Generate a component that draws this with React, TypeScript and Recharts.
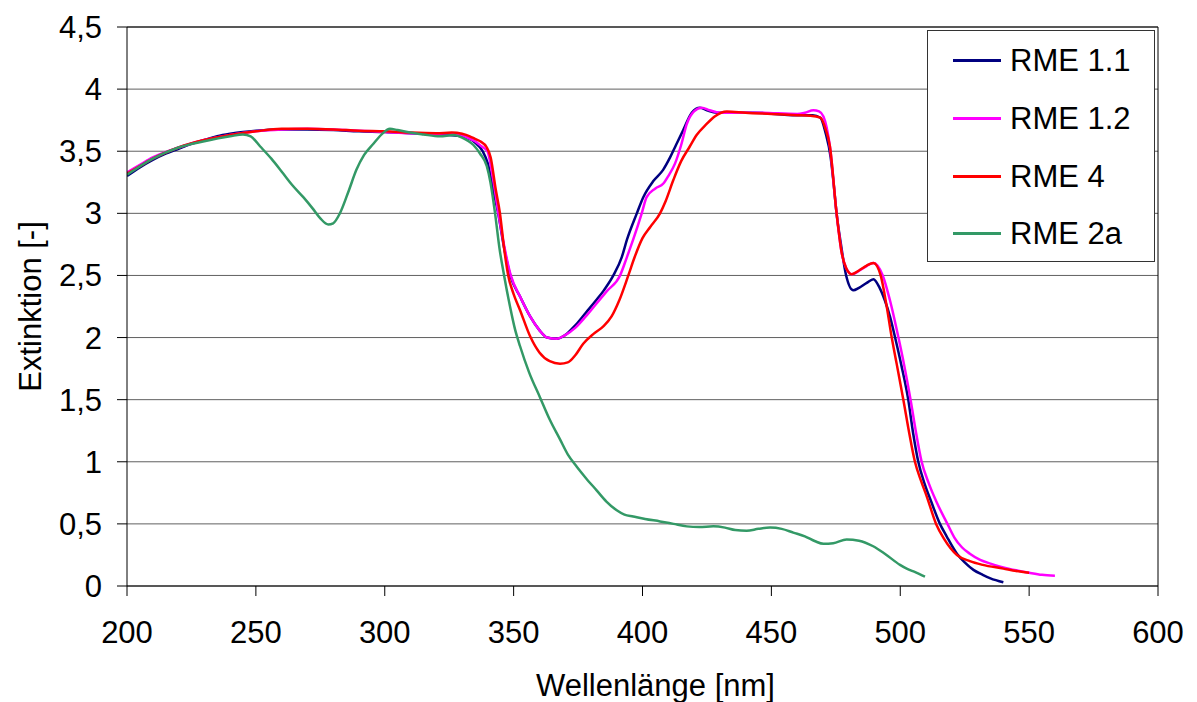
import { LineChart, Line, XAxis, YAxis, CartesianGrid, Legend, ReferenceLine } from "recharts";

const FONT = '"Liberation Sans", Arial, Helvetica, sans-serif';

// Wellenlänge (nm) und Extinktion je Probe
const rme11Nm = [200, 205, 210, 215, 220, 225, 230, 235, 240, 245, 250, 260, 270, 280, 290, 300, 310, 320, 325, 330, 335, 338, 340, 342, 344, 346.5, 348.7, 352.5, 356.4, 360, 363, 366.7, 370, 374, 378, 382, 385, 388.7, 392, 394, 397.8, 400.3, 404.2, 408, 410.7, 413, 415.8, 419.1, 422.3, 425, 428.8, 443, 459.8, 466, 469, 471, 473, 474, 475.3, 477, 479, 481.8, 484, 487, 489.6, 492, 494, 496, 498, 500.5, 503.1, 505, 507, 509.5, 512, 515.4, 518, 522, 525, 528.4, 532, 535, 540];
const rme11Ext = [3.3, 3.37, 3.43, 3.48, 3.52, 3.56, 3.59, 3.62, 3.64, 3.655, 3.665, 3.675, 3.675, 3.67, 3.66, 3.655, 3.645, 3.635, 3.63, 3.62, 3.57, 3.5, 3.4, 3.2, 3.0, 2.7, 2.5, 2.33, 2.17, 2.06, 2.0, 1.99, 2.02, 2.1, 2.2, 2.3, 2.38, 2.5, 2.65, 2.79, 3.0, 3.13, 3.26, 3.35, 3.45, 3.55, 3.67, 3.81, 3.85, 3.83, 3.81, 3.81, 3.79, 3.79, 3.77, 3.65, 3.45, 3.27, 3.0, 2.75, 2.5, 2.38, 2.4, 2.44, 2.47, 2.4, 2.3, 2.17, 2.0, 1.77, 1.5, 1.23, 1.0, 0.82, 0.68, 0.5, 0.4, 0.26, 0.19, 0.13, 0.09, 0.062, 0.03];

const rme12Nm = [200, 205, 210, 220, 230, 240, 250, 260, 270, 280, 290, 300, 310, 320, 325, 328, 332, 335, 337.5, 339.8, 342, 344.1, 346.5, 348.9, 352.5, 356.4, 360, 363, 366.7, 370, 374, 378, 382, 386, 391.3, 394, 396.4, 399.7, 401.6, 405, 408.1, 410, 412.6, 415, 417.2, 420, 423, 426, 430, 445, 460, 463, 466.3, 468.5, 470.2, 472.7, 475.3, 477.3, 479, 481.2, 485, 489.6, 493.2, 496, 499.3, 501.5, 504, 506, 508.3, 511, 514, 518.3, 521, 524, 527, 531, 535, 542, 550, 555, 560];
const rme12Ext = [3.33, 3.39, 3.45, 3.53, 3.59, 3.63, 3.66, 3.675, 3.68, 3.675, 3.665, 3.655, 3.645, 3.64, 3.645, 3.64, 3.61, 3.58, 3.54, 3.5, 3.28, 3.0, 2.72, 2.5, 2.33, 2.17, 2.06, 2.0, 1.99, 2.02, 2.08, 2.17, 2.27, 2.37, 2.5, 2.65, 2.79, 3.0, 3.13, 3.2, 3.24, 3.3, 3.4, 3.55, 3.72, 3.82, 3.85, 3.83, 3.81, 3.81, 3.8, 3.81, 3.83, 3.82, 3.78, 3.54, 3.0, 2.68, 2.56, 2.51, 2.55, 2.6, 2.5, 2.3, 2.0, 1.78, 1.5, 1.25, 1.0, 0.83, 0.68, 0.5, 0.39, 0.31, 0.26, 0.21, 0.18, 0.14, 0.107, 0.09, 0.083];

const rme4Nm = [200, 205, 210, 220, 230, 240, 250, 260, 270, 280, 290, 300, 310, 320, 326, 330, 333, 335, 337, 339.6, 341.1, 343, 344.7, 346.3, 347.9, 350, 352.5, 356.4, 360, 364, 368, 371, 374, 377, 381, 384.8, 388, 391, 394.5, 397, 400, 403, 406.8, 409, 412, 415, 418.4, 421, 424.9, 428, 432.7, 440, 450, 460, 465, 469, 471, 472.7, 475.3, 477.3, 479, 481.2, 484, 487, 489.6, 492.4, 494.5, 496.7, 498.6, 501.2, 503.5, 505.7, 508, 510.3, 513.9, 517, 522, 527, 532, 540, 545, 550];
const rme4Ext = [3.32, 3.38, 3.44, 3.53, 3.59, 3.63, 3.66, 3.68, 3.68, 3.675, 3.665, 3.66, 3.65, 3.645, 3.65, 3.64, 3.62, 3.6, 3.58, 3.53, 3.45, 3.2, 3.0, 2.72, 2.5, 2.35, 2.22, 2.01, 1.88, 1.81, 1.79, 1.8, 1.86, 1.95, 2.03, 2.09, 2.17, 2.3, 2.5, 2.65, 2.8, 2.89, 3.0, 3.1, 3.27, 3.42, 3.54, 3.63, 3.72, 3.78, 3.82, 3.81, 3.8, 3.79, 3.785, 3.77, 3.68, 3.54, 3.0, 2.68, 2.56, 2.51, 2.54, 2.58, 2.6, 2.5, 2.28, 2.0, 1.79, 1.5, 1.23, 1.0, 0.85, 0.72, 0.5, 0.38, 0.25, 0.2, 0.17, 0.14, 0.12, 0.107];

const rme2aNm = [200, 210, 220, 230, 240, 245, 248, 251.6, 256, 260.6, 264, 268.4, 272, 275, 278.1, 280, 282.6, 286, 289, 292, 295.6, 299, 302, 305, 309.8, 315, 321.4, 326.6, 330, 334.4, 337, 339.6, 341, 342.8, 344.5, 346.3, 348.6, 350.5, 352.5, 356, 360.2, 364, 368, 371, 374.5, 378, 382.2, 386, 390, 393, 396.4, 401, 406.8, 412, 417.2, 422, 427.5, 432, 436, 440.4, 445, 449.5, 454, 458.5, 463, 467, 470.2, 474, 479.2, 484, 489.5, 494, 499.9, 502.5, 506, 509.6];
const rme2aExt = [3.31, 3.44, 3.53, 3.58, 3.62, 3.635, 3.62, 3.54, 3.44, 3.32, 3.23, 3.13, 3.04, 2.96, 2.91, 2.92, 3.0, 3.18, 3.35, 3.47, 3.56, 3.64, 3.68, 3.67, 3.65, 3.635, 3.62, 3.63, 3.61, 3.55, 3.48, 3.38, 3.25, 3.0, 2.72, 2.5, 2.25, 2.07, 1.93, 1.72, 1.52, 1.34, 1.18, 1.06, 0.96, 0.87, 0.77, 0.68, 0.61, 0.575, 0.56, 0.54, 0.52, 0.5, 0.48, 0.475, 0.48, 0.47, 0.45, 0.445, 0.46, 0.47, 0.46, 0.43, 0.4, 0.36, 0.34, 0.345, 0.375, 0.365, 0.32, 0.26, 0.17, 0.14, 0.11, 0.075];

const xTicks = [200, 250, 300, 350, 400, 450, 500, 550, 600];
const yTicks = [0, 0.5, 1, 1.5, 2, 2.5, 3, 3.5, 4, 4.5];

const toPoints = (nm: number[], ext: number[]) => nm.map((x, i) => ({ nm: x, ext: ext[i] }));

const series = [
  { name: "RME 1.1", color: "#000080", data: toPoints(rme11Nm, rme11Ext) },
  { name: "RME 1.2", color: "#ff00ff", data: toPoints(rme12Nm, rme12Ext) },
  { name: "RME 4", color: "#ff0000", data: toPoints(rme4Nm, rme4Ext) },
  { name: "RME 2a", color: "#339966", data: toPoints(rme2aNm, rme2aExt) },
];

const tickStyle = { fontSize: 31, fill: "#000", fontFamily: FONT };

// legend keeps the series order instead of the sorted payload
const renderLegend = () => (
  <div
    style={{
      width: "100%",
      height: "100%",
      boxSizing: "border-box",
      border: "1px solid #333",
      background: "#fff",
      paddingTop: 1,
      fontFamily: FONT,
    }}
  >
    {series.map((s) => (
      <div key={s.name} style={{ display: "flex", alignItems: "center", height: 57.7 }}>
        <span style={{ marginLeft: 25, width: 48, height: 3, background: s.color, display: "inline-block" }} />
        <span style={{ marginLeft: 9, fontSize: 31, color: "#000", lineHeight: 1 }}>{s.name}</span>
      </div>
    ))}
  </div>
);

const XTitle = ({ viewBox }: any) => (
  <text x={viewBox.x + viewBox.width / 2 + 13} y={696} textAnchor="middle" fontSize={31} fontFamily={FONT} fill="#000">
    Wellenlänge [nm]
  </text>
);

const YTitle = ({ viewBox }: any) => {
  const cx = 41;
  const cy = viewBox.y + viewBox.height / 2;
  return (
    <text x={cx} y={cy} transform={`rotate(-90 ${cx} ${cy})`} textAnchor="middle" fontSize={31} fontFamily={FONT} fill="#000">
      Extinktion [-]
    </text>
  );
};

export default function App() {
  return (
    <div style={{ position: "absolute", left: 0, top: 0, width: 1197, height: 702, background: "#fff" }}>
      <LineChart width={1197} height={702} margin={{ top: 27, right: 39, bottom: 0, left: 0 }} style={{ fontFamily: FONT }}>
        <CartesianGrid vertical={false} stroke="#606060" strokeWidth={1} />
        <XAxis
          dataKey="nm"
          type="number"
          domain={[200, 600]}
          ticks={xTicks}
          height={116}
          tick={tickStyle}
          tickSize={10}
          tickMargin={25}
          axisLine={{ stroke: "#000" }}
          tickLine={{ stroke: "#000" }}
          allowDataOverflow
          label={<XTitle />}
        />
        <YAxis
          type="number"
          domain={[0, 4.5]}
          ticks={yTicks}
          width={127}
          tick={tickStyle}
          tickSize={10}
          tickMargin={15}
          tickFormatter={(v: number) => String(v).replace(".", ",")}
          axisLine={{ stroke: "#000" }}
          tickLine={{ stroke: "#000" }}
          label={<YTitle />}
        />
        <ReferenceLine x={600} stroke="#000" />
        <ReferenceLine y={4.5} stroke="#000" />
        {series.map((s) => (
          <Line
            key={s.name}
            name={s.name}
            data={s.data}
            dataKey="ext"
            type="monotone"
            stroke={s.color}
            strokeWidth={2.5}
            dot={false}
            activeDot={false}
            isAnimationActive={false}
          />
        ))}
        <Legend
          layout="horizontal"
          verticalAlign="middle"
          align="center"
          content={renderLegend}
          wrapperStyle={{ position: "absolute", left: 927, top: 30, width: 228, height: 232 }}
        />
      </LineChart>
    </div>
  );
}
